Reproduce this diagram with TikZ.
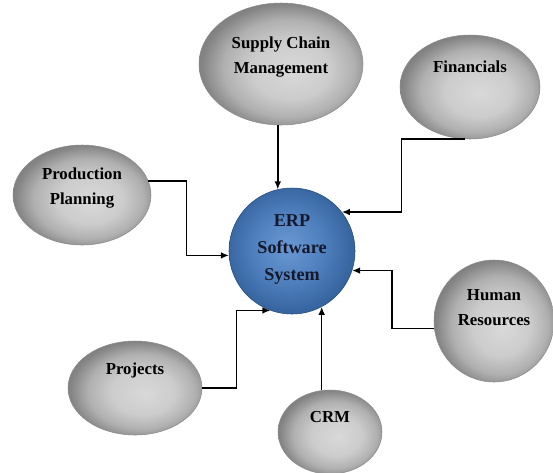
\documentclass[tikz,border=0pt]{standalone}
\usepackage{fontspec}
\setmainfont{Liberation Serif}
\usetikzlibrary{shapes.geometric,arrows.meta}

\definecolor{erplight}{HTML}{6A98D4}
\definecolor{erpmid}{HTML}{4F80BD}
\definecolor{erpdark}{HTML}{3765A0}
\definecolor{erpedge}{HTML}{25497A}
\definecolor{erptext}{HTML}{15182A}
\pgfdeclareradialshading{bubbleshade}{\pgfpoint{4bp}{-3bp}}{color(0bp)=(black!15); color(12bp)=(black!20); color(20bp)=(black!31); color(26bp)=(black!48); color(32bp)=(black!56); color(50bp)=(black!56)}
\pgfdeclareradialshading{erpshade}{\pgfpoint{-2bp}{2bp}}{color(0bp)=(erplight); color(14bp)=(erpmid); color(25bp)=(erpdark); color(50bp)=(erpdark)}

\begin{document}
\begin{tikzpicture}[
        x=0.75pt, y=-0.75pt,
        bubble/.style={ellipse, draw=black!45, shading=bubbleshade, inner sep=0pt},
        erpnode/.style={circle, draw=erpedge, shading=erpshade, inner sep=0pt, minimum size=94.5pt},
        txt/.style={font=\bfseries\fontsize{12.6}{19}\selectfont, align=center, text=black},
        link/.style={-{Latex[length=6pt,width=5pt]}, line width=1.1pt}
    ]
    \useasboundingbox (0,0) rectangle (553,472);

    % 外围模块
    \node[bubble, minimum width=123pt, minimum height=91.5pt,
        label={[txt,yshift=5pt]center:Supply Chain\\Management}] (sc) at (281,64) {};
    \node[bubble, minimum width=105pt, minimum height=78pt,
        label={[txt,yshift=15pt]center:Financials}] (fin) at (470,87) {};
    \node[bubble, minimum width=103.5pt, minimum height=75pt,
        label={[txt,yshift=5pt]center:Production\\Planning}] (pp) at (82,195) {};
    \node[bubble, minimum width=100.5pt, minimum height=70.5pt,
        label={[txt,yshift=13pt]center:Projects}] (proj) at (135,388) {};
    \node[bubble, minimum width=90pt, minimum height=91.5pt,
        label={[txt,yshift=10pt]center:Human\\Resources}] (hr) at (494,321) {};
    \node[bubble, minimum width=78pt, minimum height=63pt,
        label={[txt,yshift=11pt]center:CRM}] (crm) at (330,432) {};

    % 中心 ERP
    \node[erpnode, label={[txt,text=erptext,font=\bfseries\fontsize{13.6}{20.3}\selectfont,yshift=1pt]center:ERP\\Software\\System}] (erp) at (292,251) {};

    % 连接箭头
    \draw[link] (erp.103 |- sc.south) -- (erp.103);
    \draw[link] (fin.265) -- ++(-64,0) |- (erp.38);
    \draw[link] (pp.12) -- ++(38,0) |- (erp.184);
    \draw[link] (proj.east) -- ++(34,0) |- (erp.250);
    \draw[link] (hr.187) -- ++(-42,0) |- (erp.342);
    \draw[link] (erp.298 |- crm.north) -- (erp.298);

\end{tikzpicture}
\end{document}
